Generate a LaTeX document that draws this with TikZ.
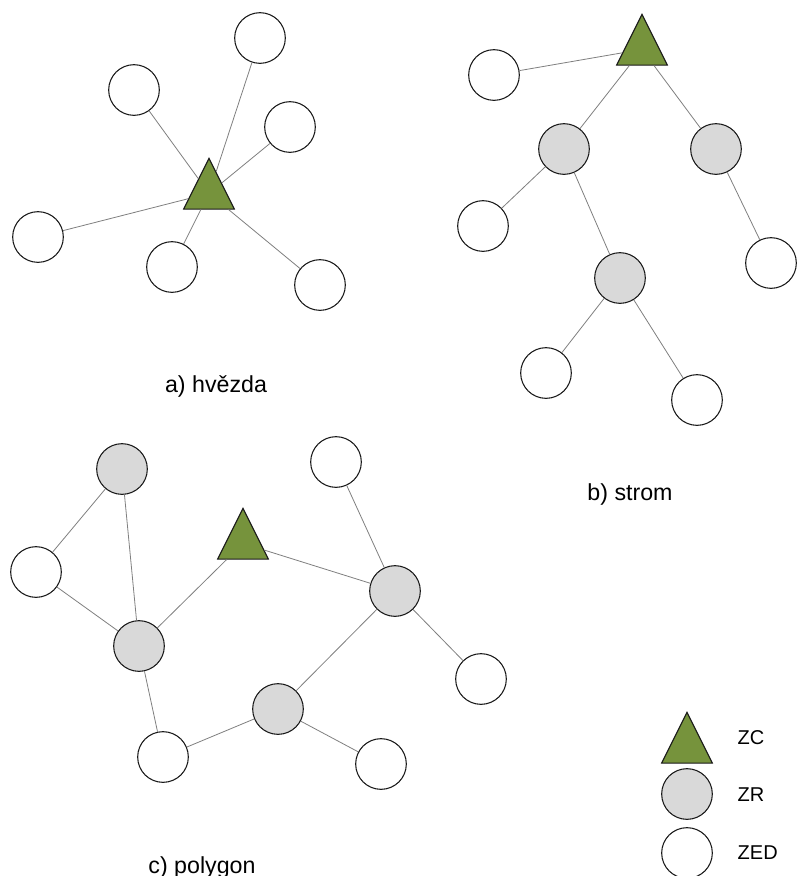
\documentclass[tikz,border=0pt]{standalone}
\usepackage{fontspec}
\setmainfont{Liberation Sans}
\usetikzlibrary{shapes.geometric}
\definecolor{zcgreen}{HTML}{76933C}
\definecolor{zrgray}{HTML}{D9D9D9}
\definecolor{edgegray}{HTML}{7F7F7F}

\begin{document}
\begin{tikzpicture}[x=0.75pt, y=-0.75pt,
    zed/.style={circle, draw=black!90, line width=0.8pt, fill=white,
      minimum size=38pt, inner sep=0pt},
    zr/.style={zed, fill=zrgray},
    zc/.style={isosceles triangle, isosceles triangle stretches,
      shape border rotate=90, draw=black!90, line width=0.8pt, fill=zcgreen,
      minimum width=38pt, minimum height=38pt, inner sep=0pt},
    edge/.style={draw=edgegray, line width=0.6pt},
    caption/.style={font=\fontsize{17.4}{20}\selectfont, anchor=base},
    legend/.style={font=\fontsize{15}{18}\selectfont, anchor=west}]
  \useasboundingbox (0,0) rectangle (797,876);

  % a) hvezda
  \node[zc, anchor=apex] (ac) at (209,157) {};
  \node[zed] (a1) at (260,38) {};
  \node[zed] (a2) at (134,90) {};
  \node[zed] (a3) at (290,127) {};
  \node[zed] (a4) at (38,237) {};
  \node[zed] (a5) at (172,267) {};
  \node[zed] (a6) at (320,285) {};
  \foreach \n in {a1,a2,a3,a4,a5,a6}
    \draw[edge] (ac) -- (\n);
  \node[caption] (alabel) at (216,392) {a) hvězda};

  % b) strom
  \node[zc, anchor=apex] (bc) at (642,13) {};
  \node[zed] (b1) at (494,75) {};
  \node[zr] (b2) at (564,149) {};
  \node[zr] (b3) at (716,149) {};
  \node[zed] (b4) at (483,226) {};
  \node[zr] (b5) at (620,278) {};
  \node[zed] (b6) at (771,263) {};
  \node[zed] (b7) at (546,373) {};
  \node[zed] (b8) at (697,400) {};
  \draw[edge] (bc) -- (b1) (bc) -- (b2) (bc) -- (b3);
  \draw[edge] (b2) -- (b4) (b2) -- (b5) (b3) -- (b6);
  \draw[edge] (b5) -- (b7) (b5) -- (b8);
  \node[caption] (blabel) at (630,500) {b) strom};

  % c) polygon
  \node[zc, anchor=apex] (cc) at (243,507) {};
  \node[zr] (c1) at (122,469) {};
  \node[zed] (c2) at (336,462) {};
  \node[zed] (c3) at (36,572) {};
  \node[zr] (c4) at (395,591) {};
  \node[zr] (c5) at (139,646) {};
  \node[zed] (c6) at (481,679) {};
  \node[zr] (c7) at (278,709) {};
  \node[zed] (c8) at (163,757) {};
  \node[zed] (c9) at (381,764) {};
  \draw[edge] (c1) -- (c3) (c1) -- (c5) (c3) -- (c5);
  \draw[edge] (c5) -- (cc) (cc) -- (c4) (c2) -- (c4);
  \draw[edge] (c4) -- (c6) (c4) -- (c7);
  \draw[edge] (c7) -- (c8) (c7) -- (c9) (c5) -- (c8);
  \node[caption] (clabel) at (202,873) {c) polygon};

  % legenda
  \node[zc, anchor=apex] (lzc) at (687,711) {};
  \node[zr] (lzr) at (687,794) {};
  \node[zed] (lzed) at (687,853) {};
  \node[legend] at (733,738) {ZC};
  \node[legend] at (733,795) {ZR};
  \node[legend] at (733,853) {ZED};
\end{tikzpicture}
\end{document}
